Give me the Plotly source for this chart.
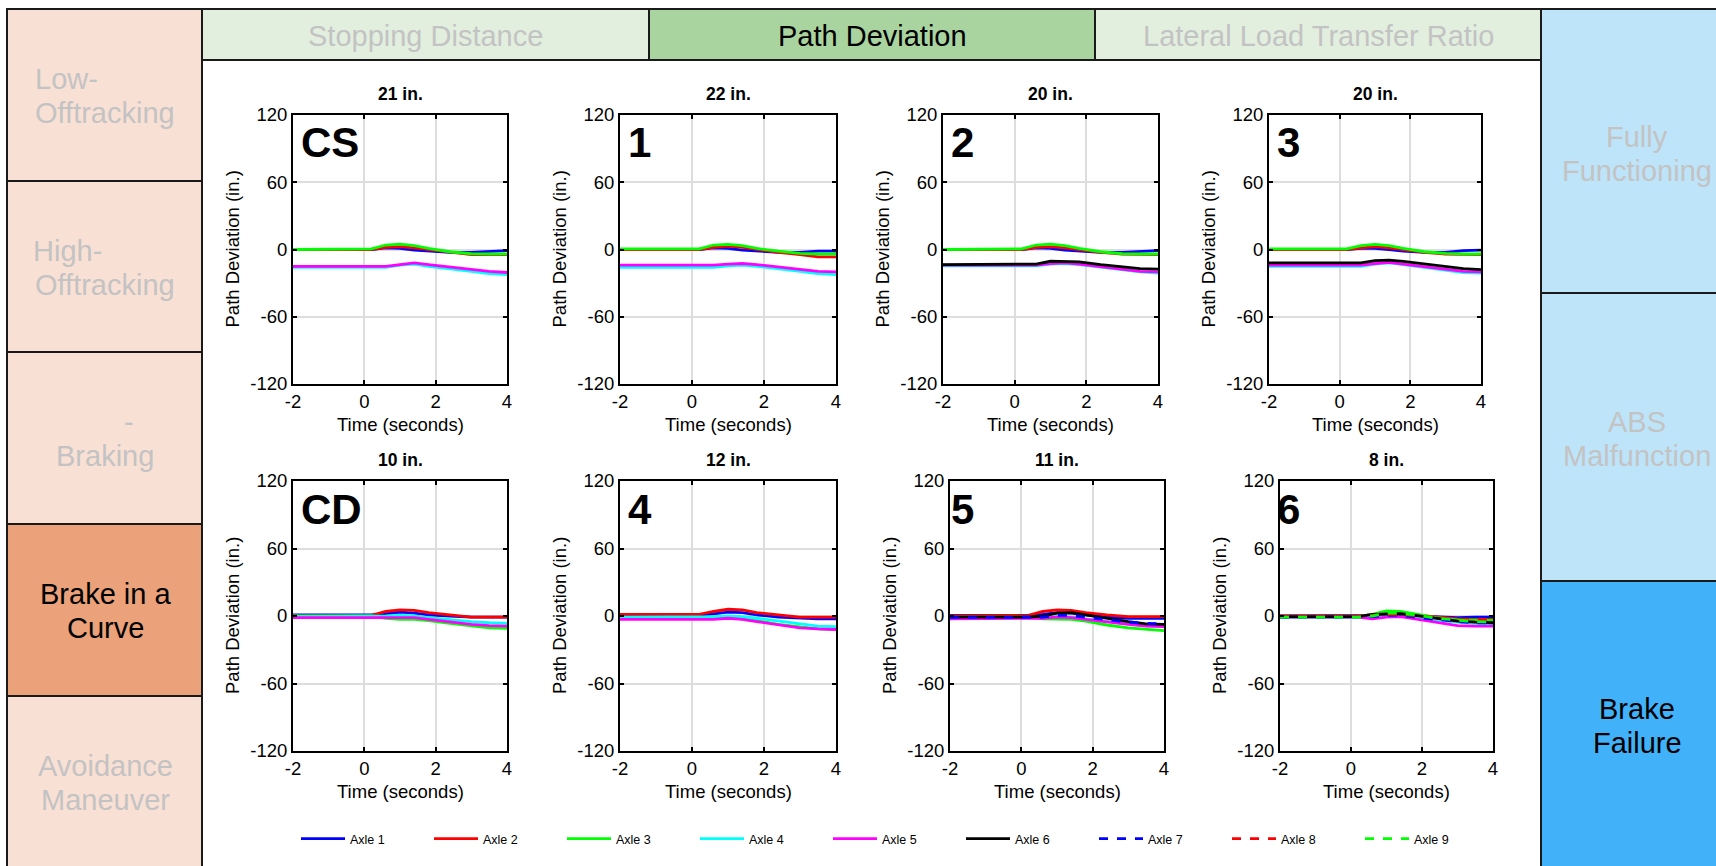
import plotly.graph_objects as go

W, H = 1716, 866
FONT = "Liberation Sans, Arial, sans-serif"

# ---------------- data ----------------
time_s = [-2, 0.2, 0.6, 1.0, 1.4, 1.8, 2.4, 3.0, 3.5, 4.0]

axle_names = ["Axle 1", "Axle 2", "Axle 3", "Axle 4", "Axle 5",
              "Axle 6", "Axle 7", "Axle 8", "Axle 9"]
axle_colors = ["#0000ff", "#ff0000", "#00ff00", "#00ffff", "#ff00ff",
               "#000000", "#0000ff", "#ff0000", "#00ff00"]
axle_dash = ["solid"] * 6 + ["dash"] * 3

panel_labels = ["CS", "1", "2", "3", "CD", "4", "5", "6"]
panel_titles = ["21 in.", "22 in.", "20 in.", "20 in.",
                "10 in.", "12 in.", "11 in.", "8 in."]

dev_cs = [
    [0, 0, 1.5, 1, -0.5, -1.5, -2.5, -2.5, -1.5, -1],
    [0, 0, 2, 2.5, 1.5, 0, -2.5, -4.5, -4.5, -4.5],
    [0, 0.5, 4, 4.8, 3.5, 1, -2, -3.8, -4, -4],
    [-16, -16, -16, -14, -13, -15, -17, -19.5, -21.5, -22.5],
    [-15, -15, -15, -13.5, -12, -13.5, -15.5, -18, -19.5, -20.5],
]
dev_1 = [
    [0, 0, 1.5, 1, -0.5, -1.5, -2.5, -2.5, -1.5, -1.5],
    [0, 0, 2, 3, 2, 0, -2.5, -4.5, -6.5, -6.5],
    [0.5, 0.5, 4, 4.5, 3.5, 1, -1.5, -3.5, -4, -4],
    [-16, -16, -16, -14.5, -14, -15, -17, -19.5, -21.5, -22.5],
    [-14, -14, -14, -13, -12.5, -13.5, -15.5, -18, -19.5, -20],
]
dev_2 = [
    [0, 0, 1.5, 1, -0.5, -1.5, -2.5, -2.5, -1.5, -1],
    [0, 0, 2, 2.5, 1.5, 0, -2.5, -4, -4.5, -4.5],
    [0, 0.5, 4, 4.8, 3.5, 1, -2, -3.8, -4, -4],
    [-14.5, -14.5, -14.5, -13, -12.5, -13.5, -16, -18.5, -20, -21],
    [-14, -14, -14, -12.5, -12, -13, -15.5, -18, -19.5, -20],
    [-13.5, -13.5, -13, -10.5, -10.5, -11, -13.5, -15.5, -17, -17.5],
]
dev_3 = [
    [0, 0, 1, 1, 0, -1.5, -2.5, -2.5, -1, -0.5],
    [0, 0, 1.5, 2.5, 1.5, 0, -2.5, -4, -4.5, -4.5],
    [0.5, 0.5, 3.5, 4.5, 3.5, 1, -2, -3.5, -4, -4],
    [-15, -15, -15, -13, -12, -13.5, -16, -18.5, -20.5, -21],
    [-14, -14, -14, -12.5, -11.5, -13, -15.5, -18, -19.5, -20],
    [-12, -12, -12, -10, -9.5, -10.5, -13, -15, -17, -18],
]
dev_cd = [
    [1, 1, 2, 3.5, 2.5, 1, 0, -1, -1, -1],
    [0, 0.5, 4, 5.5, 5, 3, 1, -1, -1, -1],
    [0, 0, -2, -3, -3, -4, -6.5, -9, -10.5, -11],
    [-0.5, -0.5, 0, 0.5, 0, -1.5, -3.5, -5, -6, -6.5],
    [-1.5, -1.5, -1.5, -1, -1.5, -3, -5.5, -7.5, -8.5, -9],
]
dev_4 = [
    [1, 1, 2, 3.5, 3, 1, -1, -2, -2.5, -2.5],
    [1.5, 1.5, 4, 6, 5.5, 3, 1, -1, -1, -1],
    [-2, -2, -2, -1.5, -2.5, -4, -7.5, -10, -11.5, -12],
    [-1, -1, -0.5, 0, -0.5, -2, -4.5, -7, -9, -9.5],
    [-3, -3, -3, -2, -3, -5, -8, -10.5, -11.5, -12],
]
dev_5 = [
    [0.5, 0.5, 1.5, 3, 2.5, 1, -1, -2, -2, -2],
    [0, 0.5, 4, 5.5, 5, 3, 1, -0.5, -0.5, -0.5],
    [-1, -1, -2.5, -3, -3, -4.5, -8, -10.5, -12, -13],
    [-2, -2, -1.5, -0.5, -1, -2.5, -5, -7, -8.5, -9],
    [-2.5, -2.5, -2, -1, -1.5, -3, -5.5, -7.5, -9, -9.5],
    [-1, -1, 0, 2.5, 3, 1, -2.5, -5, -7, -7.5],
    [-1.5, -1.5, -1, 0.5, 0.5, -1, -3.5, -5.5, -6.5, -7],
]
dev_6 = [
    [0, 0, 0.5, 1, 1, 0, -1, -1.5, -1, -1],
    [0, 0, 1, 2, 2, 1, -1, -2.5, -3, -3],
    [-0.5, -0.5, 1.5, 4.5, 4, 2, -1.5, -3.5, -4, -4],
    [-1.5, -1.5, -1.5, -0.5, -0.5, -1.5, -3.5, -5.5, -6.5, -7],
    [-1, -1, -2.5, -1, -0.5, -2.5, -5.5, -8.5, -9, -9],
    [-0.5, -0.5, 1.5, 2, 2, 0.5, -2, -4.5, -5.5, -6],
    [-1, -1, -0.5, 0.5, 0.5, -1, -3, -5, -6, -6],
    [-0.5, -0.5, 0.5, 1.5, 1.5, 0.5, -1.5, -3, -3.5, -3.5],
    [-1, -1, 0, 2.5, 2.5, 1, -2, -4, -5, -5.5],
]
panel_data = [dev_cs, dev_1, dev_2, dev_3, dev_cd, dev_4, dev_5, dev_6]

x_ticks = [-2, 0, 2, 4]
y_ticks = [-120, -60, 0, 60, 120]

header_labels = ["Stopping Distance", "Path Deviation", "Lateral Load Transfer Ratio"]
header_active = 1
row_labels = [["Low-", "Offtracking"], ["High-", "Offtracking"], ["-", "Braking"],
              ["Brake in a", "Curve"], ["Avoidance", "Maneuver"]]
row_active = 3
right_labels = [["Fully", "Functioning"], ["ABS", "Malfunction"], ["Brake", "Failure"]]
right_active = 2

# ---------------- geometry helpers ----------------
def fx(px):
    return px / W


def fy(py):
    return 1 - py / H


boxes = [
    (293, 507, 115, 384), (620, 836, 115, 384), (943, 1158, 115, 384), (1269, 1481, 115, 384),
    (293, 507, 481, 751), (620, 836, 481, 751), (950, 1164, 481, 751), (1280, 1493, 481, 751),
]

fig = go.Figure()
shapes = []
annotations = []

GRAY_TXT = "#c3c3c3"
EDGE = "#1a1a1a"
BIG = 29

# left column
row_edges = [9, 181, 352, 524, 696, 870]
row_text_y = [(79, 113), (251, 285), (422, 456), (594, 628), (766, 800)]
row_text_x = [(33, 105), (31, 105), (129, 105), (105, 105), (105, 105)]
row_text_anchor = [("left", "center"), ("left", "center"), ("center", "center"),
                   ("center", "center"), ("center", "center")]
for i, lines in enumerate(row_labels):
    active = i == row_active
    shapes.append(dict(type="rect", xref="paper", yref="paper",
                       x0=fx(7), x1=fx(202), y0=fy(row_edges[i]), y1=fy(row_edges[i + 1]),
                       fillcolor="#eba17a" if active else "#f9e0d5",
                       line=dict(color=EDGE, width=2), layer="below"))
    for j, txt in enumerate(lines):
        annotations.append(dict(xref="paper", yref="paper", x=fx(row_text_x[i][j]),
                                y=fy(row_text_y[i][j]), text=txt, showarrow=False,
                                xanchor=row_text_anchor[i][j], yanchor="middle",
                                font=dict(family=FONT, size=BIG,
                                          color="#000000" if active else GRAY_TXT)))

# header
hdr_edges = [202, 649, 1095, 1541]
for i, txt in enumerate(header_labels):
    active = i == header_active
    shapes.append(dict(type="rect", xref="paper", yref="paper",
                       x0=fx(hdr_edges[i]), x1=fx(hdr_edges[i + 1]), y0=fy(9), y1=fy(60),
                       fillcolor="#a9d4a0" if active else "#e2efdf",
                       line=dict(color=EDGE, width=2), layer="below"))
    annotations.append(dict(xref="paper", yref="paper",
                            x=fx((hdr_edges[i] + hdr_edges[i + 1]) / 2), y=fy(36),
                            text=txt, showarrow=False, xanchor="center", yanchor="middle",
                            font=dict(family=FONT, size=BIG,
                                      color="#000000" if active else GRAY_TXT)))

# right column
r_edges = [9, 293, 581, 870]
r_text_y = [(137, 171), (422, 456), (709, 743)]
for i, lines in enumerate(right_labels):
    active = i == right_active
    shapes.append(dict(type="rect", xref="paper", yref="paper",
                       x0=fx(1541), x1=fx(1722), y0=fy(r_edges[i]), y1=fy(r_edges[i + 1]),
                       fillcolor="#41b2f9" if active else "#bee4fa",
                       line=dict(color=EDGE, width=2), layer="below"))
    for j, txt in enumerate(lines):
        annotations.append(dict(xref="paper", yref="paper", x=fx(1637), y=fy(r_text_y[i][j]),
                                text=txt, showarrow=False, xanchor="center", yanchor="middle",
                                font=dict(family=FONT, size=BIG,
                                          color="#000000" if active else GRAY_TXT)))

# subplots
layout_axes = {}
for k, (x0, x1, y0, y1) in enumerate(boxes):
    n = k + 1
    xa = "xaxis" if n == 1 else f"xaxis{n}"
    ya = "yaxis" if n == 1 else f"yaxis{n}"
    xref = "x" if n == 1 else f"x{n}"
    yref = "y" if n == 1 else f"y{n}"
    common = dict(showline=True, linecolor="black", linewidth=2, mirror="allticks",
                  ticks="inside", ticklen=4, tickwidth=1.5, tickcolor="black",
                  showgrid=True, gridcolor="#dddddd", gridwidth=1.5, zeroline=False,
                  automargin=False, fixedrange=True,
                  tickfont=dict(family=FONT, size=18.5, color="black"))
    layout_axes[xa] = dict(domain=[fx(x0), fx(x1)], anchor=yref, range=[-2, 4],
                           tickvals=x_ticks, ticktext=[str(v) for v in x_ticks], **common)
    layout_axes[ya] = dict(domain=[fy(y1), fy(y0)], anchor=xref, range=[-120, 120],
                           tickvals=y_ticks, ticktext=[str(v) for v in y_ticks], **common)

    for a, series in enumerate(panel_data[k]):
        fig.add_trace(go.Scatter(
            x=time_s, y=series, mode="lines", name=axle_names[a],
            legendgroup=axle_names[a], showlegend=(k == 7),
            line=dict(color=axle_colors[a], width=2.8, dash=axle_dash[a]),
            xaxis=xref, yaxis=yref, hoverinfo="skip"))

    top_left = boxes[k % 4][0]
    annotations.append(dict(xref="paper", yref="paper", x=fx(top_left + 6), y=fy(y0 + 28),
                            text=f"<b>{panel_labels[k]}</b>", showarrow=False,
                            xanchor="left", yanchor="middle",
                            font=dict(family=FONT, size=42, color="black")))
    annotations.append(dict(xref="paper", yref="paper", x=fx((x0 + x1) / 2), y=fy(y0 - 21),
                            text=f"<b>{panel_titles[k]}</b>", showarrow=False,
                            xanchor="center", yanchor="middle",
                            font=dict(family=FONT, size=17.5, color="black")))
    annotations.append(dict(xref="paper", yref="paper", x=fx(x0 - 61), y=fy((y0 + y1) / 2),
                            text="Path Deviation (in.)", showarrow=False, textangle=-90,
                            xanchor="center", yanchor="middle",
                            font=dict(family=FONT, size=18.5, color="black")))
    annotations.append(dict(xref="paper", yref="paper", x=fx((x0 + x1) / 2), y=fy(y1 + 40),
                            text="Time (seconds)", showarrow=False,
                            xanchor="center", yanchor="middle",
                            font=dict(family=FONT, size=18.5, color="black")))

fig.update_layout(
    width=W, height=H, autosize=False,
    margin=dict(l=0, r=0, t=0, b=0, pad=0, autoexpand=False),
    paper_bgcolor="white", plot_bgcolor="white",
    shapes=shapes, annotations=annotations,
    legend=dict(orientation="h", x=fx(296), y=fy(839), xanchor="left", yanchor="middle",
                itemwidth=44, entrywidth=74, entrywidthmode="pixels",
                bgcolor="rgba(0,0,0,0)",
                font=dict(family=FONT, size=12.5, color="black"), traceorder="normal"),
    **layout_axes,
)

fig.write_html(
    "out.html",
    config={"displayModeBar": False},
    post_script="document.body.style.margin='0';document.body.style.overflow='hidden';",
)
